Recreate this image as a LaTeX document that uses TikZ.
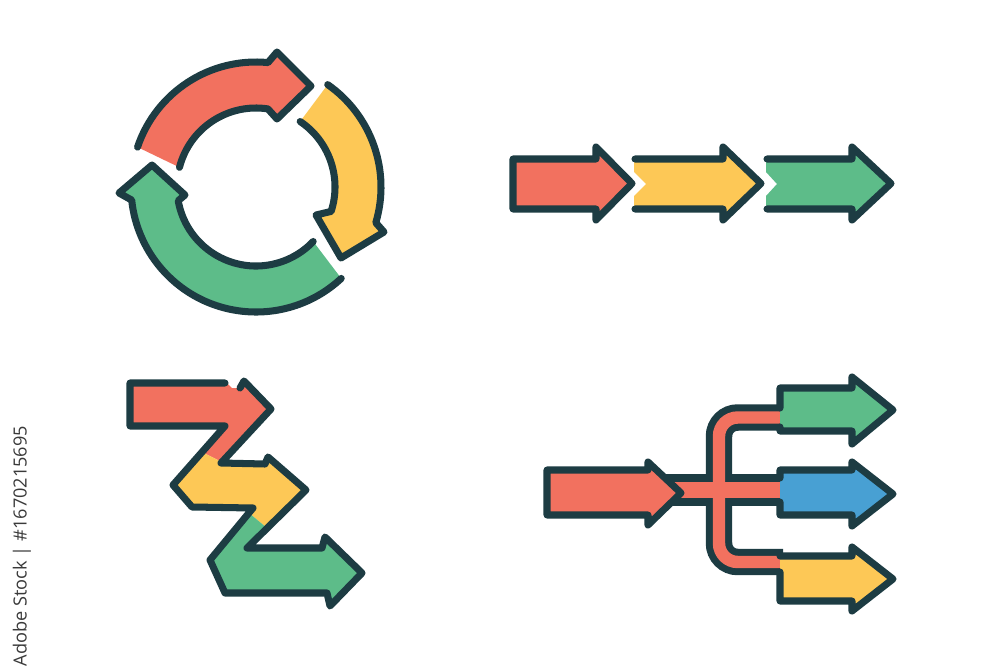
\documentclass[tikz,border=0pt]{standalone}
\usepackage{fontspec}
\newfontfamily\wmfont{Open Sans}
\definecolor{dk}{HTML}{1D3C43}
\definecolor{cred}{HTML}{F2715F}
\definecolor{cyel}{HTML}{FDC856}
\definecolor{cgrn}{HTML}{5DBC89}
\definecolor{cblu}{HTML}{48A0D3}
\definecolor{wmgray}{HTML}{3A3A3A}
\newcommand{\cpt}[2]{({256+(#2)*cos(#1)},{-187+(#2)*sin(#1)})}
\begin{document}
\begin{tikzpicture}[x=0.3mm, y=0.3mm,
  ol/.style={draw=dk, line width=6pt, line join=round, line cap=round},
  pipeout/.style={draw=dk, line cap=butt},
  pipein/.style={draw=cred, line cap=butt}]
\fill[white] (0,0) rectangle (1000,-667);
\useasboundingbox (0,0) rectangle (1000,-667);

% ---------- cycle of three curved arrows ----------
\def\pRed{\cpt{161.4}{125} arc[start angle=161.4,end angle=84.5,radius=125] -- (277,-52) -- (311,-86) -- (277,-119) -- \cpt{81.3}{79} arc[start angle=81.3,end angle=165.6,radius=79]}
\def\pYel{\cpt{55}{125} arc[start angle=55,end angle=-16.6,radius=125] -- (384,-232) -- (341,-258) -- (316,-215) -- \cpt{-18}{79} arc[start angle=-18,end angle=56,radius=79]}
\def\pGrn{\cpt{-47}{125} arc[start angle=-47,end angle=-174,radius=125] -- (119,-193) -- (152,-165) -- (185,-195) -- \cpt{-170}{79} arc[start angle=-170,end angle=-43.6,radius=79]}
\fill[cred] \pRed -- cycle;
\draw[ol] \pRed;
\fill[cyel] \pYel -- cycle;
\draw[ol] \pYel;
\fill[cgrn] \pGrn -- cycle;
\draw[ol] \pGrn;

% ---------- row of three straight arrows ----------
\fill[cred] (513,-159) -- (596,-159) -- (596,-147) -- (632,-183.5) -- (596,-220) -- (596,-209) -- (513,-209) -- cycle;
\draw[ol] (513,-159) -- (596,-159) -- (596,-147) -- (632,-183.5) -- (596,-220) -- (596,-209) -- (513,-209) -- cycle;
\fill[cyel] (634,-159) -- (723,-159) -- (723,-147) -- (761,-183.5) -- (723,-220) -- (723,-209) -- (634,-209) -- (634,-196) -- (646,-184) -- (634,-172) -- cycle;
\draw[ol] (635,-159) -- (723,-159) -- (723,-147) -- (761,-183.5) -- (723,-220) -- (723,-209) -- (635,-209);
\fill[cgrn] (766,-159) -- (852,-159) -- (852,-147) -- (891,-183.5) -- (852,-220) -- (852,-209) -- (766,-209) -- (766,-196) -- (777,-184) -- (766,-172) -- cycle;
\draw[ol] (767,-159) -- (852,-159) -- (852,-147) -- (891,-183.5) -- (852,-220) -- (852,-209) -- (767,-209);

% ---------- zigzag ----------
\fill[cred] (202,-452) -- (225,-426) -- (130,-426) -- (130,-383) -- (227,-383) -- (232,-388) -- (240,-388) -- (244,-381) -- (271,-409) -- (222,-462) -- cycle;
\fill[cyel] (202,-452) -- (173,-485) -- (192,-507) -- (253,-508) -- (249,-513) -- (267,-528) -- (306,-490) -- (268,-457) -- (265,-464) -- (221,-463) -- (222,-462) -- cycle;
\fill[cgrn] (249,-513) -- (210,-560) -- (225,-593) -- (327,-593) -- (330,-606) -- (362,-573) -- (325,-537) -- (322,-548) -- (247,-548) -- (267,-528) -- cycle;
\draw[ol] (240,-388) -- (244,-381) -- (271,-409) -- (221,-463) -- (265,-464) -- (268,-457) -- (306,-490) -- (247,-548) -- (322,-548) -- (325,-537) -- (362,-573) -- (330,-606) -- (327,-593) -- (225,-593) -- (210,-560) -- (253,-508) -- (192,-507) -- (173,-485) -- (225,-426) -- (130,-426) -- (130,-383) -- (225,-383);

% ---------- branching ----------
\draw[pipeout, line width=22.6pt, rounded corners=16pt] (783,-417.5) -- (719,-417.5) -- (719,-562) -- (783,-562);
\draw[pipeout, line width=26.5pt] (655,-490) -- (783,-490);
\draw[pipein, line width=10.6pt, rounded corners=16pt] (783,-417.5) -- (719,-417.5) -- (719,-562) -- (783,-562);
\draw[pipein, line width=14.5pt] (655,-490) -- (783,-490);

\fill[cgrn] (780,-388) -- (852,-388) -- (852,-377) -- (893,-410) -- (852,-444) -- (852,-431) -- (780,-431) -- cycle;
\draw[ol] (780,-408) -- (780,-388) -- (852,-388) -- (852,-377) -- (893,-410) -- (852,-444) -- (852,-431) -- (780,-431) -- (780,-427);
\fill[cblu] (780,-470) -- (852,-470) -- (852,-462) -- (893,-494) -- (852,-526) -- (852,-515) -- (780,-515) -- cycle;
\draw[ol] (780,-478) -- (780,-470) -- (852,-470) -- (852,-462) -- (893,-494) -- (852,-526) -- (852,-515) -- (780,-515) -- (780,-502);
\fill[cyel] (780,-556) -- (852,-556) -- (852,-547) -- (893,-579) -- (852,-611) -- (852,-601) -- (780,-601) -- cycle;
\draw[ol] (780,-572) -- (780,-601) -- (852,-601) -- (852,-611) -- (893,-579) -- (852,-547) -- (852,-556) -- (780,-556);

\fill[cred] (547,-470) -- (648,-470) -- (648,-462) -- (681,-493) -- (648,-525) -- (648,-515) -- (547,-515) -- cycle;
\draw[ol] (547,-470) -- (648,-470) -- (648,-462) -- (681,-493) -- (648,-525) -- (648,-515) -- (547,-515) -- cycle;

% ---------- watermark ----------
\node[rotate=90, text=wmgray, font=\wmfont\fontsize{15.5pt}{18pt}\selectfont, inner sep=0pt] (wm) at (22,-546) {Adobe Stock | \#1670215695};
\end{tikzpicture}
\end{document}
